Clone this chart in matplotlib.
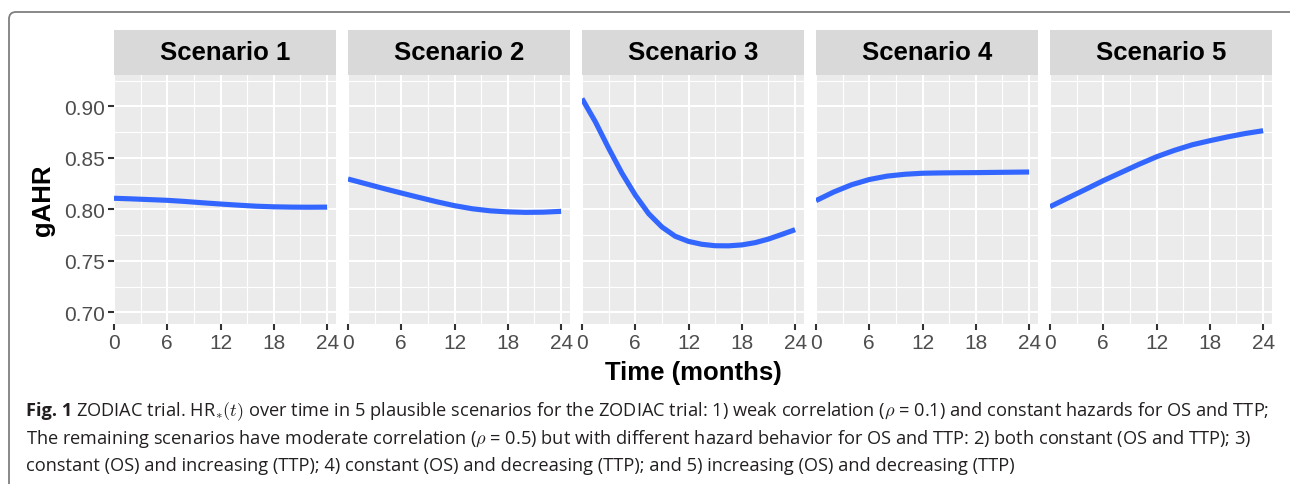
import matplotlib
matplotlib.use("Agg")
import matplotlib.pyplot as plt
from matplotlib.patches import FancyBboxPatch

# ---- data ----
months = [0, 2, 4, 6, 8, 10, 12, 14, 16, 18, 20, 22, 24]
s1 = [0.8107, 0.8101, 0.8094, 0.8087, 0.8076, 0.8063, 0.8051, 0.8040, 0.8030, 0.8024, 0.8021, 0.8020, 0.8021]
s2 = [0.8294, 0.8248, 0.8202, 0.8158, 0.8115, 0.8073, 0.8035, 0.8005, 0.7985, 0.7975, 0.7970, 0.7972, 0.7980]
s4 = [0.8084, 0.8168, 0.8238, 0.8289, 0.8322, 0.8340, 0.8350, 0.8353, 0.8355, 0.8356, 0.8358, 0.8360, 0.8362]
s5 = [0.8025, 0.8109, 0.8193, 0.8278, 0.8357, 0.8436, 0.8510, 0.8572, 0.8626, 0.8666, 0.8703, 0.8736, 0.8763]
# scenario 3 bends sharply, read on a finer grid
months3 = [0, 1.5, 3, 4.5, 6, 7.5, 9, 10.5, 12, 13.5, 15, 16.5, 18, 19.5, 21, 22.5, 24]
s3 = [0.9075, 0.8850, 0.8593, 0.8350, 0.8138, 0.7958, 0.7828, 0.7738, 0.7688, 0.7660, 0.7646, 0.7645,
      0.7654, 0.7676, 0.7711, 0.7756, 0.7802]
scenarios = ["Scenario 1", "Scenario 2", "Scenario 3", "Scenario 4", "Scenario 5"]
xs_all = [months, months, months3, months, months]
series = [s1, s2, s3, s4, s5]
xticks = [0, 6, 12, 18, 24]
yticks = [0.70, 0.75, 0.80, 0.85, 0.90]
ylabels = ["0.70", "0.75", "0.80", "0.85", "0.90"]

cap_bold = "Fig. 1"
cap_lines = [r"ZODIAC trial. HR$_{\ast}(t)$ over time in 5 plausible scenarios for the ZODIAC trial: 1) weak correlation ($\rho$ = 0.1) and constant hazards for OS and TTP;",
             r"The remaining scenarios have moderate correlation ($\rho$ = 0.5) but with different hazard behavior for OS and TTP: 2) both constant (OS and TTP); 3)",
             "constant (OS) and increasing (TTP); 4) constant (OS) and decreasing (TTP); and 5) increasing (OS) and decreasing (TTP)"]

W, H = 1290, 485
plt.rcParams["font.family"] = ["Liberation Sans", "DejaVu Sans"]
plt.rcParams["mathtext.fontset"] = "cm"
fig = plt.figure(figsize=(W / 100, H / 100), dpi=100)

bg = fig.add_axes([0, 0, 1, 1], zorder=-5)
bg.set_xlim(0, W); bg.set_ylim(H, 0); bg.axis("off")
bg.add_patch(FancyBboxPatch((9, 13), W + 30, H + 30, boxstyle="round,pad=0,rounding_size=7",
                            fc="white", ec="#7f7f7f", lw=1.3))


def px(x0, y0, x1, y1):
    return [x0 / W, 1 - y1 / H, (x1 - x0) / W, (y1 - y0) / H]


BLUE = "#3366FF"
for i, (name, xs, ys) in enumerate(zip(scenarios, xs_all, series)):
    left = 114 + 234 * i
    ax = fig.add_axes(px(left, 76, left + 222, 325))
    ax.set_facecolor("#EBEBEB")
    ax.plot(xs, ys, color=BLUE, lw=3.7, solid_capstyle="butt", solid_joinstyle="round", zorder=3)
    ax.set_xlim(0, 25)
    ax.set_ylim(0.6886, 0.9304)
    ax.set_xticks(xticks)
    ax.set_xticks([3, 9, 15, 21], minor=True)
    ax.set_yticks(yticks)
    ax.set_yticks([0.725, 0.775, 0.825, 0.875, 0.925], minor=True)
    ax.set_yticklabels(ylabels)
    ax.grid(which="major", color="white", lw=1.5)
    ax.grid(which="minor", color="white", lw=0.8)
    ax.set_axisbelow(True)
    for sp in ax.spines.values():
        sp.set_visible(False)
    ax.tick_params(which="major", length=4.3, width=1.5, color="#333333", labelcolor="#4D4D4D",
                   labelsize=15, pad=2)
    ax.tick_params(which="minor", length=0)
    if i > 0:
        ax.tick_params(axis="y", which="both", length=0, labelleft=False)

    st = fig.add_axes(px(left, 31, left + 222, 76))
    st.set_facecolor("#D9D9D9")
    st.set_xticks([]); st.set_yticks([])
    for sp in st.spines.values():
        sp.set_visible(False)
    st.text(0.5, 0.5, name, ha="center", va="center", fontsize=18.5, fontweight="bold", transform=st.transAxes)

bg.text(43, 200, "gAHR", rotation=90, ha="center", va="center", fontsize=18.5, fontweight="bold")
bg.text(693, 373, "Time (months)", ha="center", va="center", fontsize=18.5, fontweight="bold")

# ---- caption ----
r = fig.canvas.get_renderer()
cap_font = "Open Sans"
fs = 11
baselines = [416.5, 444, 471.5]
tb = bg.text(26, baselines[0], cap_bold, fontsize=fs, fontweight="bold", family=cap_font, va="baseline", color="#231f20")
t_lines = [bg.text(0, y, s, fontsize=fs, family=cap_font, va="baseline", color="#231f20")
           for y, s in zip(baselines, cap_lines)]


def place():
    wb = tb.get_window_extent(r).width
    t_lines[0].set_x(26 + wb + fs * 0.3)
    t_lines[1].set_x(26); t_lines[2].set_x(26)


place()
w1 = t_lines[0].get_window_extent(r).x1 - 26
fs = fs * 1245 / w1
tb.set_fontsize(fs)
for t in t_lines:
    t.set_fontsize(fs)
place()

fig.savefig("out.png", dpi=100)
